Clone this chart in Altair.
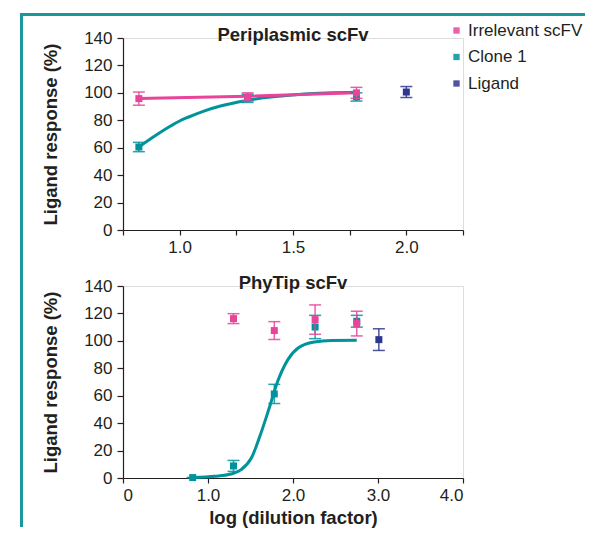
import altair as alt
import pandas as pd

SERIES = ["Irrelevant scFV", "Clone 1", "Ligand"]
COLORS = ["#E8449A", "#00939B", "#2E3690"]
FRAME = "#1A979D"
INK = "#231F20"
FONT = "Liberation Sans"

# ---------------- top panel: Periplasmic scFv ----------------
top_irr_x = [0.82, 1.30, 1.78]
top_irr_y = [95.8, 97.0, 100.0]
top_irr_err = [4.8, 3.0, 4.0]
top_clone_x = [0.82, 1.30, 1.78]
top_clone_y = [60.5, 96.0, 97.0]
top_clone_err = [3.4, 3.0, 3.0]
top_lig_x = [2.00]
top_lig_y = [100.6]
top_lig_err = [4.0]
top_fit_x = [0.82, 0.89, 0.96, 1.00, 1.04, 1.11, 1.18, 1.29, 1.40, 1.55, 1.78]
top_fit_y = [60.5, 68.5, 75.8, 79.5, 82.4, 86.9, 90.4, 94.3, 96.9, 99.2, 100.5]
top_irr_fit_x = [0.82, 1.30, 1.78]
top_irr_fit_y = [95.8, 97.5, 100.0]

# ---------------- bottom panel: PhyTip scFv ----------------
bot_irr_x = [1.30, 1.78, 2.26, 2.75]
bot_irr_y = [116.2, 107.5, 115.5, 112.6]
bot_irr_err = [3.6, 6.5, 10.7, 9.0]
bot_clone_x = [0.82, 1.30, 1.78, 2.26, 2.75]
bot_clone_y = [0.3, 8.8, 61.3, 110.1, 114.3]
bot_clone_err = [0.0, 4.0, 7.0, 8.5, 4.3]
bot_lig_x = [3.01]
bot_lig_y = [100.9]
bot_lig_err = [7.9]
bot_fit_x = [0.82, 1.08, 1.27, 1.39, 1.51, 1.63, 1.72, 1.82, 1.94, 2.06, 2.25, 2.45, 2.75]
bot_fit_y = [0.3, 1.2, 2.9, 6.1, 14.6, 34.0, 51.0, 70.5, 86.3, 94.8, 99.2, 100.3, 100.4]

y_ticks = [0, 20, 40, 60, 80, 100, 120, 140]
top_x_ticks = [0.75, 1.0, 1.25, 1.5, 1.75, 2.0, 2.25]
bot_x_ticks = [0, 1, 2, 3, 4]

AXIS_STYLE = dict(grid=False, domainColor=INK, tickColor=INK, labelColor=INK,
                  titleColor=INK, labelFont=FONT, titleFont=FONT, labelFontSize=17,
                  titleFontSize=18.5, titleFontWeight="bold", domainWidth=1.2,
                  tickWidth=1.2)


def points_df(xs, ys, errs, name):
    return pd.DataFrame({
        "x": xs, "y": ys,
        "lo": [v - e for v, e in zip(ys, errs)],
        "hi": [v + e for v, e in zip(ys, errs)],
        "series": name,
    })


def curve_df(xs, ys, name):
    return pd.DataFrame({"x": xs, "y": ys, "series": name})


def panel(title, pts, curves, xscale, xaxis, show_legend, frame=False):
    yscale = alt.Scale(domain=[0, 140], nice=False, zero=True)
    yaxis = alt.Axis(values=y_ticks, title="Ligand response (%)",
                     tickSize=6, labelPadding=5, titlePadding=23, **AXIS_STYLE)
    if show_legend:
        legend = alt.Legend(title=None, orient="none", legendX=325, legendY=-16,
                            symbolType="square", symbolSize=40, labelFontSize=17,
                            labelFont=FONT, labelColor=INK, rowPadding=8.5,
                            labelOffset=3, symbolStrokeWidth=0, padding=0)
    else:
        legend = None
    color = alt.Color("series:N", scale=alt.Scale(domain=SERIES, range=COLORS),
                      legend=legend)
    layers = []
    one = pd.DataFrame({"k": [0]})
    if frame:
        layers.append(alt.Chart(one).mark_rule(color=FRAME, strokeWidth=3).encode(
            x=alt.value(-102), x2=alt.value(462), y=alt.value(-23.5)))
        layers.append(alt.Chart(one).mark_rule(color=FRAME, strokeWidth=3).encode(
            x=alt.value(-101.5), y=alt.value(-25), y2=alt.value(489)))
    # panel title as text inside the plot frame
    layers.append(alt.Chart(one).mark_text(
        text=title, fontSize=18.5, fontWeight="bold", font=FONT, color=INK,
        align="center", baseline="alphabetic").encode(
        x=alt.value(170), y=alt.value(3)))
    for c in curves:
        layers.append(alt.Chart(c).mark_line(strokeWidth=3, interpolate="monotone").encode(
            x=alt.X("x:Q", scale=xscale, axis=xaxis),
            y=alt.Y("y:Q", scale=yscale, axis=yaxis),
            color=color))
    for p in pts:
        base = alt.Chart(p)
        layers.append(base.mark_rule(strokeWidth=1.5, opacity=0.85).encode(
            x=alt.X("x:Q", scale=xscale, axis=xaxis),
            y=alt.Y("lo:Q", scale=yscale, axis=yaxis), y2="hi:Q", color=color))
        for f in ["lo", "hi"]:
            layers.append(base.mark_tick(orient="horizontal", size=12, thickness=1.5,
                                         opacity=0.85).encode(
                x=alt.X("x:Q", scale=xscale, axis=xaxis),
                y=alt.Y(f + ":Q", scale=yscale, axis=yaxis), color=color))
        layers.append(base.mark_square(size=49, opacity=1).encode(
            x=alt.X("x:Q", scale=xscale, axis=xaxis),
            y=alt.Y("y:Q", scale=yscale, axis=yaxis), color=color))
    return alt.layer(*layers).properties(width=340, height=192)


top = panel(
    "Periplasmic scFv",
    [points_df(top_clone_x, top_clone_y, top_clone_err, "Clone 1"),
     points_df(top_irr_x, top_irr_y, top_irr_err, "Irrelevant scFV"),
     points_df(top_lig_x, top_lig_y, top_lig_err, "Ligand")],
    [curve_df(top_fit_x, top_fit_y, "Clone 1"),
     curve_df(top_irr_fit_x, top_irr_fit_y, "Irrelevant scFV")],
    alt.Scale(domain=[0.75, 2.25], nice=False, zero=False),
    alt.Axis(values=top_x_ticks, title=None, tickSize=5, labelPadding=4,
             labelExpr="(abs(datum.value-1)<0.001 || abs(datum.value-1.5)<0.001 || abs(datum.value-2)<0.001) ? format(datum.value, '.1f') : ''",
             **AXIS_STYLE),
    True, frame=True)

bottom = panel(
    "PhyTip scFv",
    [points_df(bot_clone_x, bot_clone_y, bot_clone_err, "Clone 1"),
     points_df(bot_irr_x, bot_irr_y, bot_irr_err, "Irrelevant scFV"),
     points_df(bot_lig_x, bot_lig_y, bot_lig_err, "Ligand")],
    [curve_df(bot_fit_x, bot_fit_y, "Clone 1")],
    alt.Scale(domain=[0, 4], nice=False, zero=True),
    alt.Axis(values=bot_x_ticks, title="log (dilution factor)", tickSize=5,
             labelPadding=4, titlePadding=5,
             labelExpr="datum.value == 0 ? '0' : format(datum.value, '.1f')",
             **AXIS_STYLE),
    False)

chart = alt.VConcatChart(vconcat=[top, bottom], spacing=56, bounds="flush").resolve_legend(
    color="independent"
).properties(
    padding={"left": 11, "top": 3, "right": 0, "bottom": 0}
).configure_view(stroke=None).configure(font=FONT)

chart.save("out.html", embed_options={"renderer": "svg", "actions": False})
